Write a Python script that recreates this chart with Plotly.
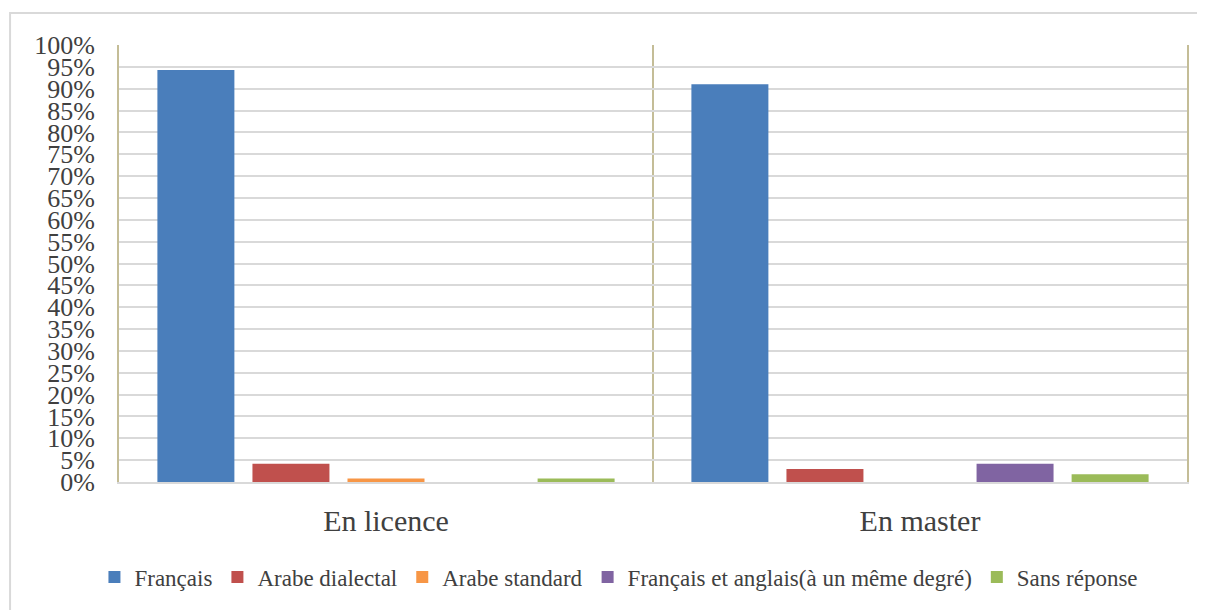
import plotly.graph_objects as go

categories = ["En licence", "En master"]
series_names = ["Français", "Arabe dialectal", "Arabe standard",
                "Français et anglais(à un même degré)", "Sans réponse"]
francais = [0.943, 0.910]
arabe_dialectal = [0.042, 0.030]
arabe_standard = [0.008, 0.0]
francais_anglais = [0.0, 0.042]
sans_reponse = [0.008, 0.018]
y_ticks = [i / 20 for i in range(21)]

series_values = [francais, arabe_dialectal, arabe_standard, francais_anglais, sans_reponse]
colors = ["#4a7ebb", "#c0504d", "#f79646", "#8064a2", "#9bbb59"]

font_family = "Liberation Serif, Times New Roman, serif"

fig = go.Figure()
for name, vals, col in zip(series_names, series_values, colors):
    fig.add_trace(go.Bar(x=categories, y=vals, name=name,
                         marker=dict(color=col, line=dict(width=0))))

fig.update_layout(
    width=1197, height=602,
    margin=dict(l=111, r=18, t=37, b=128, autoexpand=False),
    paper_bgcolor="white", plot_bgcolor="white",
    barmode="group", bargap=0.11, bargroupgap=0.19,
    font=dict(family=font_family, color="#404040", size=24),
    showlegend=True,
    legend=dict(orientation="h", xref="container", yref="container",
                x=0.5104, xanchor="center", y=0.0548, yanchor="middle",
                font=dict(family=font_family, size=23, color="#404040"),
                bgcolor="rgba(0,0,0,0)",
                itemwidth=30, traceorder="normal"),
    xaxis=dict(tickson="boundaries", showgrid=True, gridcolor="#c4bd97", gridwidth=2,
               ticks="", tickfont=dict(family=font_family, size=30, color="#404040"),
               showline=True, linecolor="#d9d9d9", linewidth=2, mirror=False,
               zeroline=False, automargin=False, ticklabelstandoff=11),
    yaxis=dict(range=[0, 1], tickvals=y_ticks, tickformat=".0%",
               tickfont=dict(family=font_family, size=26, color="#404040"),
               showgrid=True, gridcolor="#d9d9d9", gridwidth=2,
               showline=True, linecolor="#c4bd97", linewidth=2, mirror=True,
               ticks="", ticklabelstandoff=17, zeroline=False, automargin=False),
    shapes=[dict(type="rect", xref="paper", yref="paper",
                 x0=-0.102, x1=1.1, y0=-0.4, y1=1.073,
                 line=dict(color="#d9d9d9", width=2), fillcolor="rgba(0,0,0,0)",
                 layer="below")],
)

fig.write_html("out.html")
